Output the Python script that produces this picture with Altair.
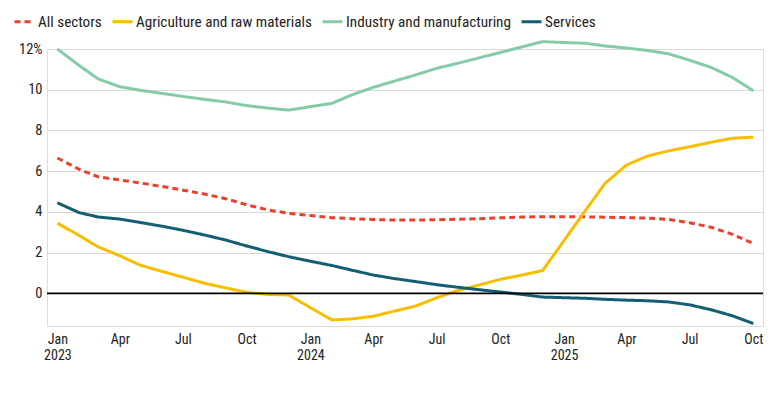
import altair as alt
import pandas as pd

months = pd.date_range("2023-01-01", periods=34, freq="MS")

all_sectors = [6.65, 6.1, 5.72, 5.57, 5.42, 5.25, 5.07, 4.88, 4.65, 4.35, 4.1, 3.93,
               3.82, 3.72, 3.67, 3.63, 3.6, 3.6, 3.62, 3.64, 3.67, 3.71, 3.75, 3.77,
               3.77, 3.76, 3.74, 3.72, 3.7, 3.63, 3.47, 3.25, 2.9, 2.45]
agriculture = [3.45, 2.85, 2.28, 1.85, 1.38, 1.08, 0.8, 0.5, 0.27, 0.05, -0.05, -0.08,
               -0.7, -1.3, -1.25, -1.12, -0.87, -0.62, -0.22, 0.15, 0.42, 0.69, 0.9, 1.12,
               2.6, 4.08, 5.4, 6.3, 6.74, 7.0, 7.2, 7.42, 7.62, 7.67]
industry = [12.0, 11.2, 10.53, 10.15, 9.97, 9.82, 9.67, 9.53, 9.4, 9.22, 9.1, 9.0,
            9.17, 9.33, 9.75, 10.12, 10.42, 10.73, 11.05, 11.3, 11.57, 11.83, 12.1, 12.36,
            12.32, 12.28, 12.15, 12.05, 11.93, 11.76, 11.45, 11.1, 10.6, 9.95]
services = [4.45, 3.97, 3.75, 3.65, 3.48, 3.3, 3.1, 2.87, 2.62, 2.33, 2.05, 1.8,
            1.58, 1.37, 1.14, 0.9, 0.73, 0.58, 0.43, 0.3, 0.18, 0.07, -0.05, -0.18,
            -0.21, -0.24, -0.29, -0.33, -0.36, -0.42, -0.56, -0.8, -1.1, -1.48]

series_names = ["All sectors", "Agriculture and raw materials",
                "Industry and manufacturing", "Services"]
series_colors = ["#E8412D", "#F5BF00", "#86CBA8", "#135E73"]
series_dash = [[6, 4], [1, 0], [1, 0], [1, 0]]

rows = []
for name, vals in zip(series_names, [all_sectors, agriculture, industry, services]):
    for m, v in zip(months, vals):
        rows.append({"date": m.strftime("%Y-%m-%d"), "series": name, "value": v})
df = pd.DataFrame(rows)

def ms(s):
    return int(pd.Timestamp(s, tz="UTC").timestamp() * 1000)

tick_values = [ms(d) for d in pd.date_range("2023-01-01", "2025-10-01", freq="3MS")]
x_domain = [ms("2022-12-17"), ms("2025-10-15")]

FONT = "Roboto Condensed, Liberation Sans Narrow, Arial Narrow, Roboto, sans-serif"

x = alt.X("date:T", title=None,
          scale=alt.Scale(type="utc", domain=x_domain, nice=False),
          axis=alt.Axis(values=tick_values, grid=False, domain=False, ticks=False,
                        labelPadding=6, labelFontSize=14, labelColor="#222",
                        labelLineHeight=16, labelBaseline="top",
                        labelExpr="utcFormat(datum.value,'%m')=='01' ? [utcFormat(datum.value,'%b'), utcFormat(datum.value,'%Y')] : utcFormat(datum.value,'%b')"))

y = alt.Y("value:Q", title=None,
          scale=alt.Scale(domain=[-1.6, 12], nice=False, zero=False),
          axis=alt.Axis(values=[0, 2, 4, 6, 8, 10, 12], domain=False, ticks=False,
                        gridColor="#d9d9d9", gridWidth=1, labelPadding=5,
                        labelFontSize=14.5, labelColor="#222",
                        minExtent=39, maxExtent=39,
                        labelExpr="datum.value == 12 ? '12%' : datum.label"))

lines = alt.Chart(df).mark_line(strokeWidth=3).encode(
    x=x, y=y,
    color=alt.Color("series:N", title=None,
                    scale=alt.Scale(domain=series_names, range=series_colors),
                    legend=alt.Legend(orient="none", legendX=-34, legendY=-39,
                                      direction="horizontal", symbolType="stroke",
                                      symbolStrokeWidth=3, symbolSize=400,
                                      labelFontSize=15.2, labelColor="#222",
                                      labelLimit=500,
                                      columnPadding=4, labelOffset=2)),
    strokeDash=alt.StrokeDash("series:N", title=None,
                              scale=alt.Scale(domain=series_names, range=series_dash)),
)

zero = alt.Chart(pd.DataFrame({"v": [0]})).mark_rule(color="black", strokeWidth=1.6).encode(
    y=alt.Y("v:Q", scale=alt.Scale(domain=[-1.6, 12], nice=False, zero=False))
)

chart = alt.layer(lines, zero).properties(
    width=716, height=277, padding={"left": 0, "top": 2, "right": 5, "bottom": 5}
).configure_view(stroke=None).configure(font=FONT)

chart.save("out.html", embed_options={"renderer": "svg", "actions": False})
